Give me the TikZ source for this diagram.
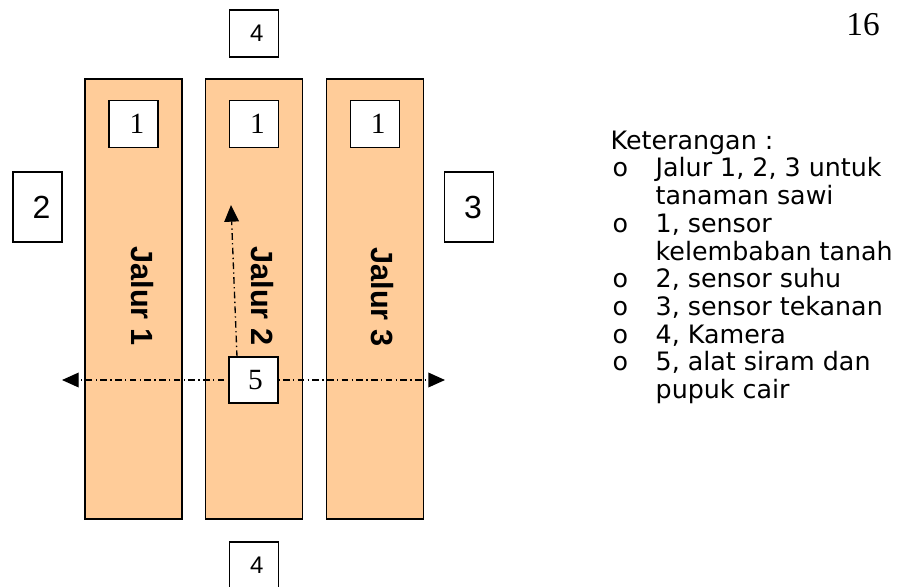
\documentclass[tikz,border=0pt]{standalone}
\usepackage{fontspec}
\setmainfont{Liberation Serif}
\newfontfamily\arialfont{Liberation Sans}
\newfontfamily\legendfont{DejaVu Sans}
\usetikzlibrary{arrows.meta, positioning}
\definecolor{laneorange}{RGB}{255,204,153}
\tikzstyle{every picture} = [x=0.75pt, y=-0.75pt, line width=1pt, node distance=16.75pt]
\tikzstyle{lane} = [draw, fill=laneorange, minimum width=72.75pt, minimum height=330pt, inner sep=0pt]
\tikzstyle{sensor} = [draw, fill=white, minimum width=36.75pt, minimum height=35.25pt, inner sep=0pt, font=\fontsize{22}{22}\selectfont]
\tikzstyle{cam} = [draw, fill=white, minimum width=36.75pt, minimum height=35.25pt, inner sep=0pt, font=\arialfont\fontsize{18}{18}\selectfont]
\tikzstyle{side} = [draw, fill=white, minimum width=36.75pt, minimum height=52.5pt, inner sep=0pt, font=\arialfont\fontsize{24}{24}\selectfont]
\tikzstyle{lanetext} = [rotate=-90, font=\arialfont\bfseries\fontsize{23}{23}\selectfont]
\tikzstyle{flow} = [dash pattern=on 5pt off 2.5pt on 1pt off 2.5pt, -{Triangle[length=12.5pt,width=11pt]}]

\begin{document}
\begin{tikzpicture}
            \useasboundingbox (0,0) rectangle (905,586);
            % lanes
            \node (lane 1) [lane] at (133.5,299) {};
            \node (lane 2) [lane,right=of lane 1] {};
            \node (lane 3) [lane,right=of lane 2] {};
            \node (jalur 1) [lanetext] at (142,296) {Jalur 1};
            \node (jalur 2) [lanetext] at (262,296) {Jalur 2};
            \node (jalur 3) [lanetext] at (382,297) {Jalur 3};

            % sensors
            \node (soil 1) [sensor,below=16.25pt of lane 1.north] {\hspace{5pt}1};
            \node (soil 2) [sensor,below=16.25pt of lane 2.north] {\hspace{5pt}1};
            \node (soil 3) [sensor,below=16.25pt of lane 3.north] {\hspace{5pt}1};
            \node (temp) [side] at (37.5,207) {\hspace{6pt}2};
            \node (press) [side] at (469,207) {\hspace{6pt}3};
            \node (cam top) [cam,above=15.5pt of lane 2.north] {\raisebox{-4pt}{\hspace{4pt}4}};
            \node (cam bottom) [cam,below=16.25pt of lane 2.south] {\raisebox{-4pt}{\hspace{4pt}4}};

            % sprayer and its paths
            \coordinate (west end) at (62,380);
            \coordinate (east end) at (445,380);
            \coordinate (spray out) at (237,357);
            \coordinate (north end) at (231,205);
            \draw[flow] (253.5,380) -- (west end);
            \draw[flow] (253.5,380) -- (east end);
            \draw[flow] (spray out) -- (north end);
            \node (sprayer) [sensor,minimum height=34.5pt] at (253.5,380) {\raisebox{-4pt}{\hspace{3pt}5}};

            \node (page) [font=\fontsize{25}{25}\selectfont] at (863,25) {16};

            % legend
            \node (legend) [anchor=north west, inner sep=0pt, font=\legendfont\fontsize{19}{20.8}\selectfont] at (610,129) {%
              \begin{tabular}{@{}p{33.75pt}@{}l@{}}
                \multicolumn{2}{@{}l@{}}{Keterangan :}\\
                \hspace{1.5pt}o & Jalur 1, 2, 3 untuk\\
                  & tanaman sawi\\
                \hspace{1.5pt}o & 1, sensor\\
                  & kelembaban tanah\\
                \hspace{1.5pt}o & 2, sensor suhu\\
                \hspace{1.5pt}o & 3, sensor tekanan\\
                \hspace{1.5pt}o & 4, Kamera\\
                \hspace{1.5pt}o & 5, alat siram dan\\
                  & pupuk cair
              \end{tabular}};
        \end{tikzpicture}
\end{document}
